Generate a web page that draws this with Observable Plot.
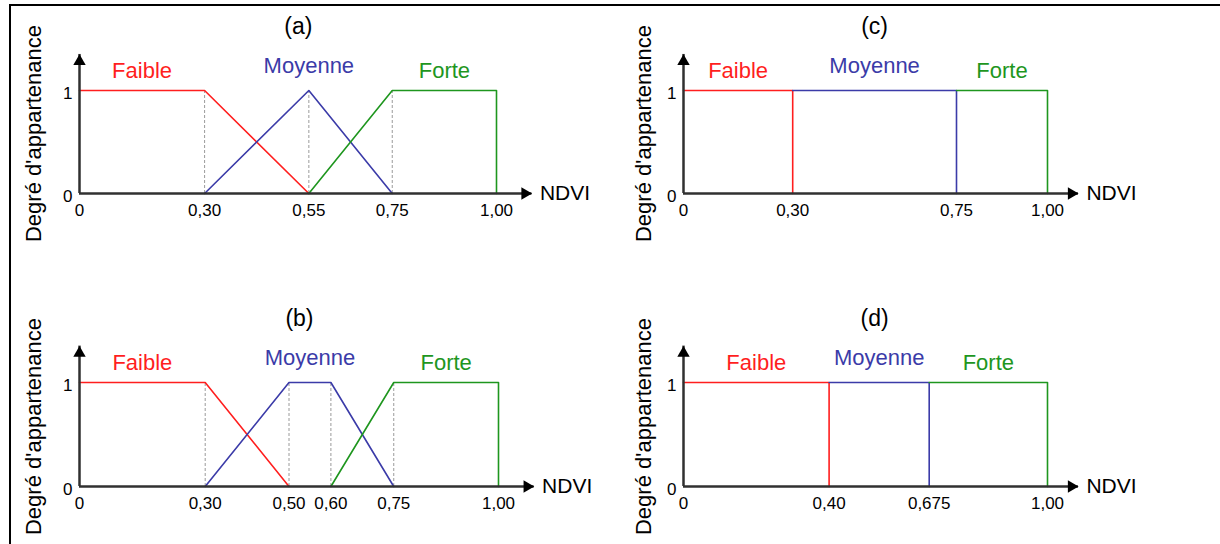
<!DOCTYPE html>
<html>
<head>
<meta charset="utf-8">
<script src="https://cdn.jsdelivr.net/npm/d3@7"></script>
<script src="https://cdn.jsdelivr.net/npm/@observablehq/plot@0.6"></script>
<style>
  html, body { margin: 0; padding: 0; background: #fff; width: 1220px; height: 544px; overflow: hidden; }
  #frame { position: absolute; left: 9px; top: 4px; width: 1300px; height: 600px;
           border-left: 2px solid #000; border-top: 2px solid #000; }
  .panel { position: absolute; }
  .panel svg { overflow: visible; }
  .panel svg [aria-label*="tick label"], .panel svg [aria-label*="tick label"] text { font-size: 17px; }
</style>
</head>
<body>
<div id="frame"></div>
<div id="root"></div>
<script>
// ---------- data ----------
const classes = ["Faible", "Moyenne", "Forte"];
const classColors = ["#ff1e1e", "#3b3ba8", "#1e961e"];

// (a) triangular / trapezoidal
const aFaible  = [[0, 1], [0.30, 1], [0.55, 0]];
const aMoyenne = [[0.30, 0], [0.55, 1], [0.75, 0]];
const aForte   = [[0.55, 0], [0.75, 1], [1.00, 1], [1.00, 0]];
const aGuides  = [0.30, 0.55, 0.75];
const aTicks   = [0, 0.30, 0.55, 0.75, 1.00];
const aTickLabels = ["0", "0,30", "0,55", "0,75", "1,00"];

// (b) trapezoidal
const bFaible  = [[0, 1], [0.30, 1], [0.50, 0]];
const bMoyenne = [[0.30, 0], [0.50, 1], [0.60, 1], [0.75, 0]];
const bForte   = [[0.60, 0], [0.75, 1], [1.00, 1], [1.00, 0]];
const bGuides  = [0.30, 0.50, 0.60, 0.75];
const bTicks   = [0, 0.30, 0.50, 0.60, 0.75, 1.00];
const bTickLabels = ["0", "0,30", "0,50", "0,60", "0,75", "1,00"];

// (c) crisp
const cFaible  = [[0, 1], [0.30, 1], [0.30, 0]];
const cMoyenne = [[0.30, 1], [0.75, 1], [0.75, 0]];
const cForte   = [[0.75, 1], [1.00, 1], [1.00, 0]];
const cGuides  = [];
const cTicks   = [0, 0.30, 0.75, 1.00];
const cTickLabels = ["0", "0,30", "0,75", "1,00"];

// (d) crisp
const dFaible  = [[0, 1], [0.40, 1], [0.40, 0]];
const dMoyenne = [[0.40, 1], [0.675, 1], [0.675, 0]];
const dForte   = [[0.675, 1], [1.00, 1], [1.00, 0]];
const dGuides  = [];
const dTicks   = [0, 0.40, 0.675, 1.00];
const dTickLabels = ["0", "0,40", "0,675", "1,00"];

const yTicks = [0, 1];
const yTitle = "Degré d'appartenance";
const xTitle = "NDVI";

// ---------- drawing ----------
const FONT = "'Liberation Sans', Arial, sans-serif";

function panel({title, series, guides, ticks, tickLabels, left, top, mLeft, mRight, mTop, mBottom, yLabelDx}) {
  const W = 610, H = 272;
  const rows = [];
  series.forEach((pts, k) => pts.forEach(([x, y]) => rows.push({set: classes[k], x, y})));
  const labels = series.map((pts, k) => {
    const plateau = pts.filter(p => p[1] === 1).map(p => p[0]);
    return {set: classes[k], x: (d3.min(plateau) + d3.max(plateau)) / 2};
  });
  const fmt = new Map(ticks.map((t, i) => [t, tickLabels[i]]));
  const xEnd = 1.085, yEnd = 1.35;
  const axisColor = "#303030";

  const chart = Plot.plot({
    width: W, height: H,
    marginLeft: mLeft, marginRight: mRight, marginTop: mTop, marginBottom: mBottom,
    style: {fontFamily: FONT, background: "transparent", color: "#000"},
    x: {domain: [0, 1], axis: null},
    y: {domain: [0, 1], axis: null},
    color: {domain: classes, range: classColors},
    marks: [
      Plot.ruleX(guides, {x: d => d, y1: 0, y2: 1, stroke: "#9a9a9a", strokeWidth: 1, strokeDasharray: "3,2"}),
      Plot.line(rows, {x: "x", y: "y", z: "set", stroke: "set", strokeWidth: 1.6}),
      // axes with arrowheads
      Plot.ruleY([0], {x1: 0, x2: xEnd, stroke: axisColor, strokeWidth: 2.5}),
      Plot.ruleX([0], {y1: 0, y2: yEnd, stroke: axisColor, strokeWidth: 2.5}),
      Plot.dot([{x: xEnd, y: 0}], {x: "x", y: "y", symbol: "triangle", r: 4.6, rotate: 90, dx: -7, fill: "#000", stroke: "none"}),
      Plot.dot([{x: 0, y: yEnd}], {x: "x", y: "y", symbol: "triangle", r: 4.6, rotate: 0, dy: 7, fill: "#000", stroke: "none"}),
      Plot.axisX({ticks, tickSize: 0, tickPadding: 10, tickFormat: d => fmt.get(d), fontSize: 17, label: null, anchor: "bottom", lineAnchor: "top"}),
      Plot.axisY({ticks: yTicks, tickSize: 0, tickPadding: 7, tickFormat: d => String(d), fontSize: 17, label: null, anchor: "left", dy: 3}),
      Plot.text([xTitle], {x: xEnd, y: 0, dx: 8, textAnchor: "start", fontSize: 21, fill: "#000"}),
      Plot.text([yTitle], {x: 0, y: 0, dx: yLabelDx, dy: -60, rotate: -90, fontSize: 22, fill: "#000"}),
      Plot.text([title], {x: 0.525, y: 1, dy: -64, fontSize: 23, fill: "#000"}),
      Plot.text(labels, {x: "x", y: () => 1, text: "set", fill: "set", fontSize: 22,
                         dy: -20, lineAnchor: "middle", filter: d => d.set !== "Moyenne"}),
      Plot.text(labels, {x: "x", y: () => 1, text: "set", fill: "set", fontSize: 22,
                         dy: -25, lineAnchor: "middle", filter: d => d.set === "Moyenne"})
    ]
  });
  const div = document.createElement("div");
  div.className = "panel";
  div.style.left = left + "px";
  div.style.top = top + "px";
  div.appendChild(chart);
  document.getElementById("root").appendChild(div);
}

panel({title: "(a)", series: [aFaible, aMoyenne, aForte], guides: aGuides, ticks: aTicks, tickLabels: aTickLabels,
       left: 0, top: 0, mLeft: 79, mRight: 114, mTop: 90, mBottom: 79, yLabelDx: -46});
panel({title: "(c)", series: [cFaible, cMoyenne, cForte], guides: cGuides, ticks: cTicks, tickLabels: cTickLabels,
       left: 610, top: 0, mLeft: 73, mRight: 173, mTop: 90, mBottom: 79, yLabelDx: -40});
panel({title: "(b)", series: [bFaible, bMoyenne, bForte], guides: bGuides, ticks: bTicks, tickLabels: bTickLabels,
       left: 0, top: 272, mLeft: 79, mRight: 112, mTop: 110, mBottom: 58, yLabelDx: -46});
panel({title: "(d)", series: [dFaible, dMoyenne, dForte], guides: dGuides, ticks: dTicks, tickLabels: dTickLabels,
       left: 610, top: 272, mLeft: 73, mRight: 173, mTop: 110, mBottom: 58, yLabelDx: -40});
</script>
</body>
</html>
